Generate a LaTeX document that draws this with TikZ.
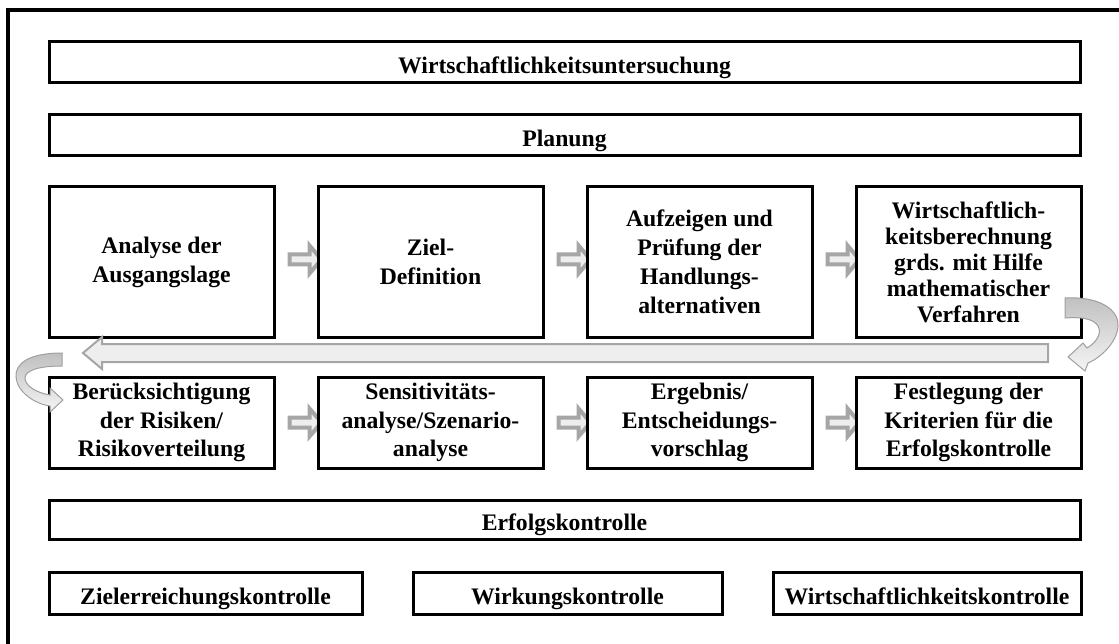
\documentclass[tikz,border=0pt]{standalone}
\usepackage{fontspec}
\setmainfont{Liberation Serif}
\usetikzlibrary{calc}
\pgfdeclarelayer{bg}
\pgfsetlayers{bg,main}
\newcommand\blockarrow[3]{\draw[smallarr] ($(#1.east)+(14,#3-5)$) -- ++(20,0) -- ++(0,-9) -- ++(12,14) -- ++(-12,14) -- ++(0,-9) -- ++(-20,0) -- cycle;}
\begin{document}
\begin{tikzpicture}[x=1pt,y=-1pt,
  box/.style={draw=black, line width=3pt, fill=white, inner sep=0pt, align=center,
    font=\bfseries\fontsize{23.7}{29}\selectfont},
  multi/.style={box, execute at begin node={\rule{0pt}{27.5pt}}},
  single/.style={box, text height=27pt, text depth=5pt},
  rowone/.style={multi, minimum width=225, minimum height=150},
  rowtwo/.style={multi, minimum width=225, minimum height=91},
  wide/.style={single, minimum width=1031},
  smallarr/.style={draw=gray!70, line width=4pt, fill=gray!13},
  bigarr/.style={draw=gray!70, line width=2pt, fill=gray!13},
  curvarr/.style={draw=gray!75, line width=1pt, top color=gray!50, bottom color=gray!8}]
\useasboundingbox (0,0) rectangle (1119,644);
\clip (0,0) rectangle (1119,644);
\draw[line width=4pt] (8,10.5) rectangle (1135,665);

\node[wide, minimum height=41] (wu) at (564.5,62.5) {Wirtschaftlichkeitsuntersuchung};
\node[wide, minimum height=41] (plan) at (564.5,135.5) {Planung};

\node[rowone] (a1) at (161.5,262) {Analyse der\\Ausgangslage};
\node[rowone] (a2) at (430.5,262) {Ziel-\\Definition};
\node[rowone] (a3) at (699.5,262) {Aufzeigen und\\Prüfung der\\Handlungs-\\alternativen};
\node[rowone, font=\bfseries\fontsize{23.7}{26}\selectfont] (a4) at (968.5,262) {Wirtschaftlich-\\keitsberechnung\\grds. mit Hilfe\\mathematischer\\Verfahren};

\node[rowtwo, font=\bfseries\fontsize{23.7}{28.5}\selectfont] (b1) at (161.5,422.5) {Berücksichtigung\\der Risiken/\\Risikoverteilung};
\node[rowtwo, font=\bfseries\fontsize{23.7}{28.5}\selectfont] (b2) at (430.5,422.5) {Sensitivitäts-\\analyse/Szenario-\\analyse};
\node[rowtwo, font=\bfseries\fontsize{23.7}{28.5}\selectfont] (b3) at (699.5,422.5) {Ergebnis/\\Entscheidungs-\\vorschlag};
\node[rowtwo, font=\bfseries\fontsize{23.7}{28.5}\selectfont] (b4) at (968.5,422.5) {Festlegung der\\Kriterien für die\\Erfolgskontrolle};

\node[wide, minimum height=39] (ek) at (564.5,519.5) {Erfolgskontrolle};
\node[single, minimum width=313, minimum height=42] (c1) at (205.5,593) {Zielerreichungskontrolle};
\node[single, minimum width=309, minimum height=42] (c2) at (567.5,593) {Wirkungskontrolle};
\node[single, minimum width=308, minimum height=42] (c3) at (927,593) {Wirtschaftlichkeitskontrolle};

\begin{pgfonlayer}{bg}
\blockarrow{a1}{a2}{-2.5}
\blockarrow{a2}{a3}{-2.5}
\blockarrow{a3}{a4}{-2.5}
\blockarrow{b1}{b2}{0}
\blockarrow{b2}{b3}{0}
\blockarrow{b3}{b4}{0}
\end{pgfonlayer}

% long return arrow
\coordinate (bigR) at (1048,353);
\coordinate (bigL) at (83,353);
\draw[bigarr] ($(bigR)+(0,-9)$) -- ($(bigL)+(19,-9)$) -- ($(bigL)+(19,-16)$) -- (bigL)
  -- ($(bigL)+(19,16)$) -- ($(bigL)+(19,9)$) -- ($(bigR)+(0,9)$) -- cycle;

% right curved arrow
\draw[curvarr] (1065,298) .. controls (1100,296) and (1119,310) .. (1118,326)
  .. controls (1117,343) and (1100,358) .. (1088,363)
  -- (1085,371) -- (1068,357) -- (1083,343) -- (1087,348)
  .. controls (1097,342) and (1102,333) .. (1098,326)
  .. controls (1093,318) and (1080,317) .. (1065,318) -- cycle;

% left curved arrow
\draw[curvarr] (62,353) .. controls (28,353) and (15,364) .. (16,377)
  .. controls (17,392) and (35,404) .. (50,406)
  -- (50,412) -- (63,400) -- (50,388) -- (50,395)
  .. controls (37,393) and (25,386) .. (25,378)
  .. controls (25,370) and (40,366) .. (62,366) -- cycle;
\end{tikzpicture}
\end{document}
